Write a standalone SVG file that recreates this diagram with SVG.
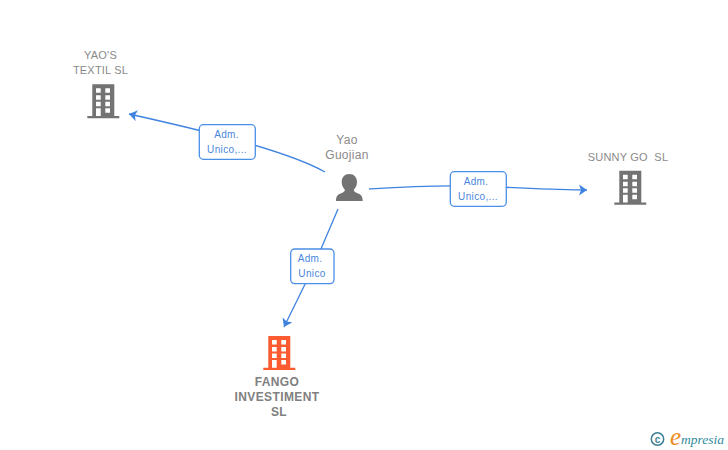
<svg xmlns="http://www.w3.org/2000/svg" width="728" height="450" viewBox="0 0 728 450">
<style>
.lbl{font-family:"Liberation Sans",Arial,sans-serif;font-size:11px;fill:#8a8a8a;text-anchor:middle;letter-spacing:.2px;white-space:pre}
.name{font-size:12px;letter-spacing:.3px}
.bold{font-weight:bold;font-size:12px;letter-spacing:.4px;fill:#808080}
.edge{font-family:"Liberation Sans",Arial,sans-serif;font-size:10px;fill:#4a86de;text-anchor:middle;letter-spacing:.35px}
.conn{fill:none;stroke:#3f83e0;stroke-width:1.3}
.box{fill:#fff;stroke:#4a8fe7;stroke-width:1.3}
.gray{fill:#737373}
.red{fill:#fc5a30}
</style>
<defs>
<marker id="arr" markerUnits="userSpaceOnUse" markerWidth="12" markerHeight="12" refX="8" refY="5.5" orient="auto">
<path d="M0,0L8,5.5L0,11L2,5.5Z" fill="#3f83e0"/>
</marker>
<path id="bld" fill-rule="evenodd" d="M5,0H27V31.8H32V34H0V31.8H5ZM8.7,4V8.5H13.4V4ZM18,4V8.5H22.7V4ZM8.7,11V15.5H13.4V11ZM18,11V15.5H22.7V11ZM8.7,17.5V22H13.4V17.5ZM18,17.5V22H22.7V17.5ZM8.7,24V31.8H13.4V24ZM18,24V28.5H22.7V24Z"/>
</defs>
<g id="connectors">
<path class="conn" marker-end="url(#arr)" d="M325,172C300,158 265,148 240,141C200,130 165,122 129,114"/>
<path class="conn" marker-end="url(#arr)" d="M369,189C400,187 430,185 470,186C510,187 550,190 587,190"/>
<path class="conn" marker-end="url(#arr)" d="M338,209L312,270L284,327"/>
<rect class="box" x="199.3" y="124.7" width="56" height="34.6" rx="4"/>
<text class="edge" x="226.5" y="138">Adm.</text>
<text class="edge" x="227" y="153">Unico,...</text>
<rect class="box" x="450.3" y="171.7" width="56" height="34.6" rx="4"/>
<text class="edge" x="476" y="185">Adm.</text>
<text class="edge" x="478" y="200">Unico,...</text>
<rect class="box" x="290.7" y="249" width="43.3" height="34.6" rx="4"/>
<text class="edge" x="310" y="262">Adm.</text>
<text class="edge" x="312" y="277">Unico</text>
</g>
<g id="yaos">
<text class="lbl" x="100.5" y="59">YAO'S</text>
<text class="lbl" x="100.5" y="74">TEXTIL SL</text>
<use href="#bld" class="gray" x="87.3" y="84.3"/>
</g>
<g id="sunny">
<text class="lbl" x="628" y="161" xml:space="preserve">SUNNY GO  SL</text>
<use href="#bld" class="gray" x="614.3" y="170.7"/>
</g>
<g id="fango">
<use href="#bld" class="red" x="263.3" y="336"/>
<text class="lbl bold" x="277" y="386">FANGO</text>
<text class="lbl bold" x="277" y="401">INVESTIMENT</text>
<text class="lbl bold" x="279" y="416">SL</text>
</g>
<g id="yao">
<text class="lbl name" x="347" y="144">Yao</text>
<text class="lbl name" x="347" y="159">Guojian</text>
<path class="gray" d="M349.3,174C354,174 357,177.5 357,182C357,185.5 355.5,188 353.8,189.8C353.8,191.5 355,192.3 357.5,193.2C361,194.5 362.7,196 362.7,201H336C336,196 337.7,194.5 341.2,193.2C343.7,192.3 344.9,191.5 344.9,189.8C343.2,188 341.7,185.5 341.7,182C341.7,177.5 344.7,174 349.3,174Z"/>
</g>
<g id="logo">
<circle cx="657.5" cy="439" r="6.2" fill="none" stroke="#3f7f95" stroke-width="1.5"/>
<text x="657.5" y="442.5" font-family="Liberation Sans,sans-serif" font-size="10" font-weight="bold" fill="#3f7f95" text-anchor="middle">c</text>
<text x="670" y="445" font-family="Liberation Serif,serif" font-style="italic" font-size="25" fill="#f08a1d">e</text>
<text x="681" y="444" font-family="Liberation Serif,serif" font-style="italic" font-size="13.5" fill="#2f8a9c">mpresia</text>
</g>
</svg>
